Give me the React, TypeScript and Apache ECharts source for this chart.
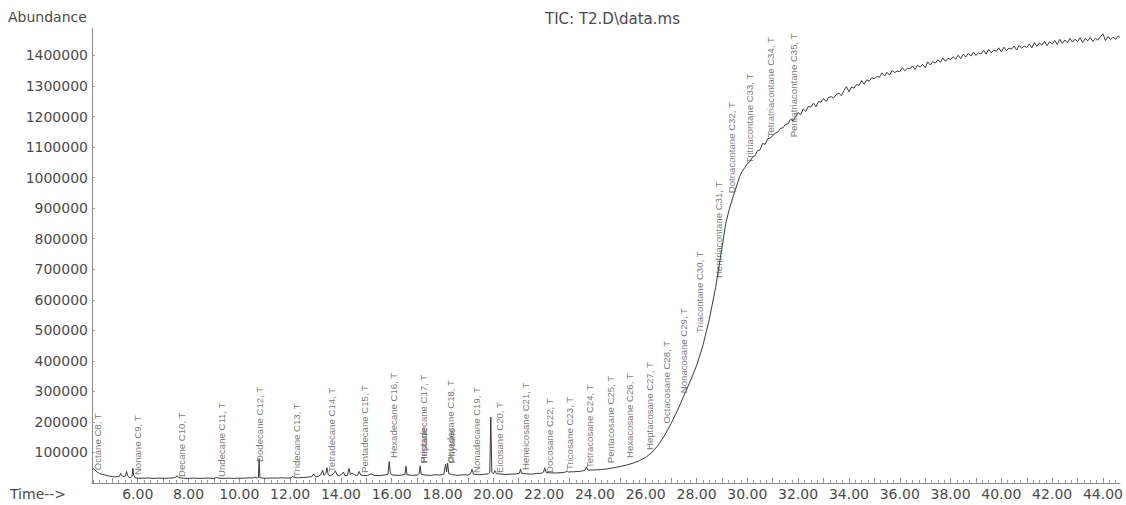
import React, { useEffect, useRef } from "react";
import * as echarts from "echarts";

// ---- chromatogram trace (TIC) ----
const earlyTimes = [
  4.2, 4.26, 4.32, 4.4, 4.5, 4.6, 4.7, 4.8, 4.9, 5.0, 5.1, 5.2, 5.28, 5.33, 5.37, 5.45, 5.52, 5.56, 5.6, 5.66,
  5.72, 5.78, 5.81, 5.84, 5.9, 6.0, 6.2, 6.4, 6.6, 6.8, 7.0, 7.2, 7.4, 7.5, 7.55, 7.6, 7.8, 8.0, 8.2, 8.4,
  8.6, 8.8, 9.0, 9.1, 9.2, 9.4, 9.6, 9.8, 10.0, 10.2, 10.4, 10.5, 10.6, 10.7, 10.75, 10.78, 10.81, 10.9, 11.1, 11.3,
  11.5, 11.7, 11.9, 12.05, 12.1, 12.15, 12.3, 12.5, 12.7, 12.85, 12.93, 13.0, 13.1, 13.2, 13.28, 13.33, 13.4, 13.45, 13.5, 13.6,
  13.7, 13.78, 13.85, 13.95, 14.05, 14.1, 14.15, 14.25, 14.32, 14.37, 14.45, 14.55, 14.65, 14.72, 14.78, 14.9, 15.05, 15.2, 15.3, 15.5,
  15.7, 15.85, 15.9, 15.95, 16.05, 16.25, 16.4, 16.52, 16.56, 16.6, 16.8, 17.0, 17.08, 17.12, 17.16, 17.3, 17.5, 17.7, 17.9, 18.05,
  18.12, 18.16, 18.2, 18.25, 18.4, 18.6, 18.8, 19.0, 19.1, 19.16, 19.22, 19.4, 19.6, 19.8, 19.86, 19.9, 19.94, 20.0, 20.06, 20.12,
  20.3, 20.5, 20.7, 20.9, 21.03, 21.07, 21.11, 21.3, 21.5, 21.7, 21.9, 21.98, 22.02, 22.08, 22.3, 22.5, 22.7, 22.85, 22.9, 22.95,
  23.2, 23.4, 23.6, 23.66, 23.72, 24.0,
];
const earlyAbundance = [
  42000, 47000, 43000, 36000, 31000, 28000, 26500, 24000, 22500, 21000, 20000, 21500, 22000, 32000, 24000, 21000, 23000, 38000, 25000, 18000,
  17000, 22000, 48000, 26000, 17000, 16000, 15500, 16500, 15000, 16000, 15500, 16000, 16500, 19000, 24000, 18000, 15500, 15000, 16000, 15000,
  15500, 16000, 15000, 18000, 15500, 15000, 16000, 15000, 16000, 15500, 17000, 16000, 19000, 16500, 17000, 80000, 18000, 16000, 15500, 16500,
  16000, 17000, 16000, 17500, 22000, 17500, 17000, 18000, 19000, 21000, 30000, 20000, 22000, 26000, 42000, 25000, 30000, 50000, 27000, 24000,
  30000, 40000, 26000, 24000, 30000, 36000, 25000, 24000, 48000, 28000, 32000, 26000, 25000, 38000, 26000, 24000, 25000, 30000, 25000, 24000,
  26000, 28000, 70000, 30000, 26000, 25000, 26000, 28000, 55000, 27000, 25000, 26000, 30000, 56000, 29000, 26000, 25000, 27000, 26000, 28000,
  62000, 36000, 65000, 30000, 27000, 25000, 27000, 26000, 30000, 45000, 29000, 27000, 28000, 30000, 34000, 216000, 35000, 30000, 40000, 31000,
  29000, 28000, 29000, 30000, 32000, 45000, 32000, 30000, 29000, 31000, 32000, 36000, 50000, 34000, 33000, 33000, 34000, 36000, 40000, 36000,
  37000, 38000, 41000, 52000, 42000, 43000,
];
const riseTimes = [
  24.25, 24.5, 24.75, 25.0, 25.25, 25.5, 25.75, 26.0, 26.25, 26.5, 26.75, 27.0, 27.25, 27.5, 27.75, 28.0, 28.25, 28.5, 28.75, 29.0,
  29.15, 29.3, 29.45,
];
const riseAbundance = [
  44000, 46500, 50000, 54000, 59000, 65000, 73000, 84000, 100000, 125000, 157000, 195000, 238000, 285000, 333000, 384000, 450000, 535000, 640000, 770000,
  850000, 900000, 940000,
];
const noisyStart = 29.6;
const noisyStep = 0.1;
const noisyAbundance = [
  979000, 1004000, 1021000, 1033000, 1046000, 1052000, 1067000, 1071000, 1088000, 1091000,
  1112000, 1109000, 1127000, 1130000, 1137000, 1146000, 1149000, 1161000, 1163000, 1174000,
  1176000, 1191000, 1186000, 1200000, 1213000, 1206000, 1225000, 1217000, 1233000, 1231000,
  1244000, 1232000, 1249000, 1247000, 1259000, 1249000, 1263000, 1265000, 1261000, 1272000,
  1277000, 1268000, 1285000, 1298000, 1281000, 1297000, 1293000, 1305000, 1302000, 1318000,
  1306000, 1320000, 1316000, 1327000, 1324000, 1331000, 1329000, 1343000, 1333000, 1345000,
  1336000, 1351000, 1344000, 1349000, 1347000, 1360000, 1350000, 1358000, 1356000, 1366000,
  1354000, 1368000, 1362000, 1371000, 1360000, 1379000, 1369000, 1380000, 1375000, 1386000,
  1378000, 1392000, 1381000, 1391000, 1387000, 1396000, 1388000, 1401000, 1389000, 1404000,
  1395000, 1407000, 1398000, 1411000, 1400000, 1409000, 1405000, 1417000, 1404000, 1420000,
  1409000, 1418000, 1414000, 1425000, 1412000, 1427000, 1416000, 1424000, 1421000, 1431000,
  1418000, 1433000, 1424000, 1431000, 1426000, 1438000, 1425000, 1442000, 1430000, 1441000,
  1433000, 1446000, 1432000, 1445000, 1438000, 1449000, 1436000, 1453000, 1440000, 1451000,
  1442000, 1456000, 1444000, 1453000, 1446000, 1458000, 1443000, 1455000, 1448000, 1459000,
  1446000, 1457000, 1450000, 1461000, 1471000, 1449000, 1462000, 1452000, 1460000, 1453000,
  1464000,
];
const endTime = 44.67;
const endAbundance = 1459000;

// ---- peak annotations ----
const peakNames = [
  "Octane C8, T", "Nonane C9, T", "Decane C10, T", "Undecane C11, T", "Dodecane C12, T",
  "Tridecane C13, T", "Tetradecane C14, T", "Pentadecane C15, T", "Hexadecane C16, T",
  "Heptadecane C17, T", "Pristane", "Octadecane C18, T", "Phytane", "Nonadecane C19, T",
  "Eicosane C20, T", "Heneicosane C21, T", "Docosane C22, T", "Tricosane C23, T",
  "Tetracosane C24, T", "Pentacosane C25, T", "Hexacosane C26, T", "Heptacosane C27, T",
  "Octacosane C28, T", "Nonacosane C29, T", "Triacontane C30, T", "Hentriacontane C31, T",
  "Dotriacontane C32, T", "Tritriacontane C33, T", "Tetratriacontane C34, T", "Pentatriacontane C35, T",
];
const peakTimes = [
  4.2, 5.8, 7.53, 9.09, 10.58,
  12.07, 13.44, 14.73, 15.86,
  17.04, 17.06, 18.13, 18.16, 19.15,
  20.05, 21.07, 22.0, 22.79,
  23.57, 24.4, 25.18, 25.96,
  26.63, 27.29, 27.92, 28.66,
  29.17, 29.87, 30.73, 31.63,
];
const peakLabelBase = [
  42000, 26000, 20000, 20000, 69000,
  20000, 36000, 33000, 82000,
  65000, 65000, 65000, 65000, 33000,
  33000, 42500, 33000, 42500,
  49000, 65000, 82000, 108000,
  195000, 294000, 491000, 671000,
  949000, 1047000, 1132000, 1132000,
];

// ---- axes ----
const yTickValues = [100000, 200000, 300000, 400000, 500000, 600000, 700000, 800000, 900000, 1000000, 1100000, 1200000, 1300000, 1400000];
const xTickValues = [6, 8, 10, 12, 14, 16, 18, 20, 22, 24, 26, 28, 30, 32, 34, 36, 38, 40, 42, 44];
const xMin = 4.2;
const xMax = 44.67;
const yMax = 1490000;

const textColor = "#4a4a4a";
const axisFont = "DejaVu Sans";

export default function App() {
  const ref = useRef<HTMLDivElement>(null);
  useEffect(() => {
    if (!ref.current) return;
    const chart = echarts.init(ref.current, null, { renderer: "svg" });

    const trace: number[][] = [];
    earlyTimes.forEach((t, i) => trace.push([t, earlyAbundance[i]]));
    riseTimes.forEach((t, i) => trace.push([t, riseAbundance[i]]));
    noisyAbundance.forEach((v, i) => trace.push([+(noisyStart + i * noisyStep).toFixed(2), v]));
    trace.push([endTime, endAbundance]);

    const minorTicks: number[] = [];
    for (let t = 4.25; t < xMax; t += 0.25) minorTicks.push(+t.toFixed(2));
    const unitTicks: number[] = [];
    for (let t = 5; t < xMax; t += 1) unitTicks.push(t);

    const labels = peakNames.map((n, i) => ({ name: n, value: [peakTimes[i], peakLabelBase[i]] }));

    chart.setOption({
      animation: false,
      backgroundColor: "#ffffff",
      grid: { left: 92, right: 0, top: 28, bottom: 22 },
      xAxis: [
        {
          type: "value",
          min: xMin,
          max: xMax,
          axisLine: { show: true, lineStyle: { color: "#8a8a8a", width: 1 } },
          axisTick: { show: true, inside: true, length: 5, customValues: unitTicks, lineStyle: { color: "#8a8a8a" } },
          axisLabel: {
            customValues: xTickValues,
            formatter: (v: number) => v.toFixed(2),
            color: textColor,
            fontFamily: axisFont,
            fontSize: 14,
            margin: 4,
          },
          splitLine: { show: false },
        },
        {
          type: "value",
          min: xMin,
          max: xMax,
          position: "bottom",
          axisLine: { show: false },
          axisTick: { show: true, inside: true, length: 3, customValues: minorTicks, lineStyle: { color: "#9a9a9a" } },
          axisLabel: { show: false },
          splitLine: { show: false },
        },
      ],
      yAxis: {
        type: "value",
        min: 0,
        max: yMax,
        axisLine: { show: true, lineStyle: { color: "#8a8a8a", width: 1 } },
        axisTick: { show: true, inside: true, length: 3, customValues: yTickValues, lineStyle: { color: "#9a9a9a" } },
        axisLabel: {
          customValues: yTickValues,
          formatter: (v: number) => String(Math.round(v)),
          color: textColor,
          fontFamily: axisFont,
          fontSize: 14,
          margin: 4,
        },
        splitLine: { show: false },
      },
      graphic: [
        { type: "text", left: 8, top: 10, style: { text: "Abundance", fill: textColor, font: `14px ${axisFont}` } },
        { type: "text", left: 10, top: 487, style: { text: "Time-->", fill: textColor, font: `14px ${axisFont}` } },
        { type: "text", left: 545, top: 11, style: { text: "TIC: T2.D\\data.ms", fill: textColor, font: `15px ${axisFont}` } },
      ],
      series: [
        {
          type: "line",
          data: trace,
          showSymbol: false,
          symbol: "none",
          lineStyle: { color: "#3a3a3a", width: 1 },
          silent: true,
          z: 2,
        },
        {
          type: "scatter",
          data: labels,
          symbolSize: 0,
          silent: true,
          z: 3,
          label: {
            show: true,
            position: "inside",
            formatter: "{b}",
            rotate: 90,
            align: "left",
            verticalAlign: "top",
            color: "#555555",
            fontFamily: "'Liberation Sans', Arial, sans-serif",
            fontSize: 9.6,
          },
        },
      ],
    });
    return () => chart.dispose();
  }, []);
  return (
    <div
      ref={ref}
      style={{ position: "fixed", left: 0, top: 0, width: 1126, height: 505, background: "#fff" }}
    />
  );
}
